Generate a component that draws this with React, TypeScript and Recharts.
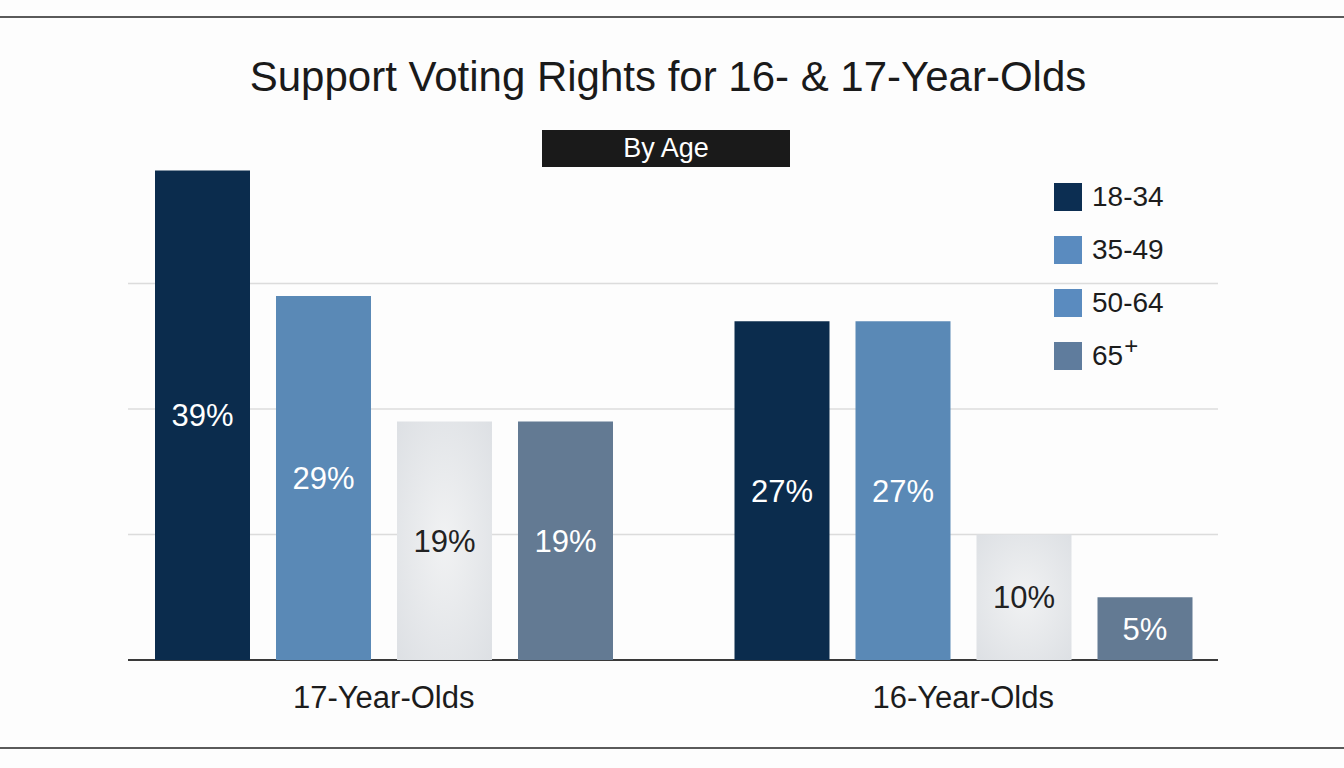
import React from 'react';
import { BarChart, Bar, XAxis, YAxis, CartesianGrid, LabelList } from 'recharts';

// ---------------------------------------------------------------------------
// Data
// ---------------------------------------------------------------------------

const groups = ['17-Year-Olds', '16-Year-Olds'];
const ageBands = ['18-34', '35-49', '50-64', '65+'];
const support1834 = [39, 27];
const support3549 = [29, 27];
const support5064 = [19, 10];
const support65 = [19, 5];
const yTicks = [0, 10, 20, 30];

const barFills = ['#0b2c4d', '#5a89b6', 'url(#greyGrain)', '#637a93'];
const swatchFills = ['#0c2e52', '#5a8bbf', '#5a8bbf', '#5f7c9d'];
const labelFills = ['#ffffff', '#ffffff', '#222222', '#ffffff'];

const rows = groups.map((g, i) => ({
  group: g,
  a: support1834[i],
  b: support3549[i],
  c: support5064[i],
  d: support65[i],
}));
const keys = ['a', 'b', 'c', 'd'];

const FONT = '"Liberation Sans", Arial, Helvetica, sans-serif';

// ---------------------------------------------------------------------------
// Pieces
// ---------------------------------------------------------------------------

const AgeLegend = () => (
  <div style={{ position: 'absolute', left: 1054, top: 170, fontFamily: FONT }}>
    {ageBands.map((name, i) => (
      <div key={name} style={{ display: 'flex', alignItems: 'center', height: 53 }}>
        <div style={{ width: 28, height: 28, background: swatchFills[i], marginRight: 10 }} />
        <span style={{ fontSize: 28, color: '#1c1c1c' }}>
          {name === '65+' ? (
            <>
              65<sup style={{ fontSize: 24, verticalAlign: 'top', position: 'relative', top: -8, marginLeft: 1 }}>+</sup>
            </>
          ) : (
            name
          )}
        </span>
      </div>
    ))}
  </div>
);

const GridLine = (props: any) => {
  const isBase = props.index === 0;
  return (
    <line
      key={props.key}
      x1={props.x1}
      x2={props.x2}
      y1={props.y1}
      y2={props.y2}
      stroke={isBase ? '#3a3a3a' : '#dcdcdc'}
      strokeWidth={isBase ? 2 : 1.5}
    />
  );
};

// ---------------------------------------------------------------------------
// Component
// ---------------------------------------------------------------------------

export default function App() {
  return (
    <div
      style={{
        position: 'absolute',
        left: 0,
        top: 0,
        width: 1344,
        height: 768,
        background: '#fdfdfd',
        fontFamily: FONT,
        overflow: 'hidden',
      }}
    >
      <div style={{ position: 'absolute', left: 0, right: 0, top: 16, height: 2, background: '#5a5a5a' }} />
      <div style={{ position: 'absolute', left: 0, right: 0, top: 747, height: 2, background: '#5a5a5a' }} />

      <div style={{ position: 'absolute', left: 0, top: 0 }}>
        <BarChart
          width={1344}
          height={768}
          data={rows}
          margin={{ top: 158, right: 126, bottom: 78, left: 128 }}
          barSize={95}
          barGap={26}
        >
          <defs>
            <radialGradient id="greyGrain" cx="50%" cy="50%" r="70%">
              <stop offset="0%" stopColor="#f1f2f3" />
              <stop offset="100%" stopColor="#dde0e4" />
            </radialGradient>
          </defs>
          <CartesianGrid vertical={false} horizontal={GridLine} horizontalValues={yTicks} />
          <XAxis
            dataKey="group"
            axisLine={false}
            tickLine={false}
            padding={{ left: -34, right: -35 }}
            tick={{ fill: '#1c1c1c', fontSize: 31, fontFamily: FONT }}
            tickMargin={20}
          />
          <YAxis hide domain={[0, 40]} ticks={yTicks} />
          {keys.map((k, i) => (
            <Bar key={k} dataKey={k} name={ageBands[i]} fill={barFills[i]} isAnimationActive={false}>
              <LabelList
                dataKey={k}
                position="center"
                formatter={(v: any) => `${v}%`}
                fill={labelFills[i]}
                fontSize={31}
                fontFamily={FONT}
              />
            </Bar>
          ))}
        </BarChart>
      </div>

      <div
        style={{
          position: 'absolute',
          left: 0,
          width: 1336,
          top: 51,
          textAlign: 'center',
          fontSize: 42,
          color: '#1a1a1a',
          lineHeight: '52px',
        }}
      >
        Support Voting Rights for 16- &amp; 17-Year-Olds
      </div>
      <div
        style={{
          position: 'absolute',
          left: 542,
          top: 130,
          width: 248,
          height: 37,
          background: '#1a1a1a',
          color: '#ffffff',
          fontSize: 27,
          lineHeight: '37px',
          textAlign: 'center',
        }}
      >
        By Age
      </div>
      <AgeLegend />
    </div>
  );
}
